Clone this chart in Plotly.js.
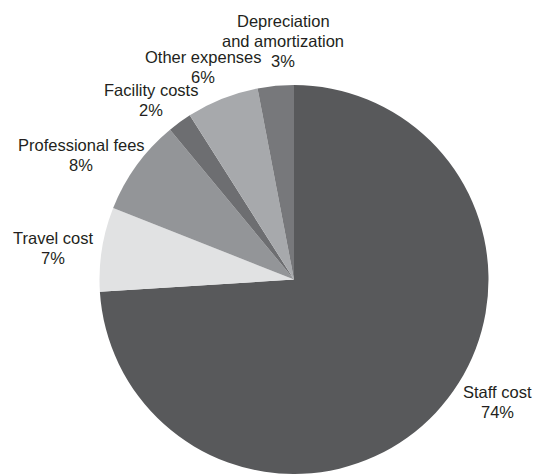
<!DOCTYPE html>
<html>
<head>
<meta charset="utf-8">
<script src="https://cdn.plot.ly/plotly-3.0.1.min.js"></script>
<style>html,body{margin:0;padding:0;background:#fff;overflow:hidden}</style>
</head>
<body>
<div id="chart" style="width:538px;height:474px"></div>
<script>
var categories = ["Staff cost", "Travel cost", "Professional fees", "Facility costs", "Other expenses", "Depreciation<br>and amortization"];
var values = [74, 7, 8, 2, 6, 3];
var colors = ["#58595b", "#e1e2e3", "#939598", "#6d6e71", "#a7a9ac", "#77787b"];
// label anchor: centre x and first-line centre y, in pixels
var labelPx = [[498, 392], [53, 238], [81, 145], [151, 90], [203, 57], [283, 21]];
var lineGap = 20;

var W = 538, H = 474;
var m = {l: 99, r: 49, t: 85, b: 0};
var pw = W - m.l - m.r, ph = H - m.t - m.b;

var total = values.reduce(function(a, b){return a + b;}, 0);
var annotations = [];
categories.forEach(function(c, i){
  var pct = Math.round(values[i] / total * 100) + "%";
  var lines = c.split("<br>").concat([pct]);
  lines.forEach(function(t, k){
    annotations.push({
      xref: "paper", yref: "paper",
      x: (labelPx[i][0] - m.l) / pw,
      y: 1 - (labelPx[i][1] + k * lineGap - m.t) / ph,
      xanchor: "center", yanchor: "middle",
      text: t,
      showarrow: false,
      font: {family: "Liberation Sans", size: 16.5, color: "#231f20"}
    });
  });
});

Plotly.newPlot("chart", [{
  type: "pie",
  labels: categories,
  values: values,
  sort: false,
  direction: "clockwise",
  rotation: 0,
  textinfo: "none",
  hoverinfo: "label+percent",
  marker: {colors: colors, line: {color: "#ffffff", width: 0}},
  showlegend: false
}], {
  width: W, height: H,
  margin: m,
  paper_bgcolor: "#ffffff",
  annotations: annotations
}, {displayModeBar: false, staticPlot: true});
</script>
</body>
</html>
